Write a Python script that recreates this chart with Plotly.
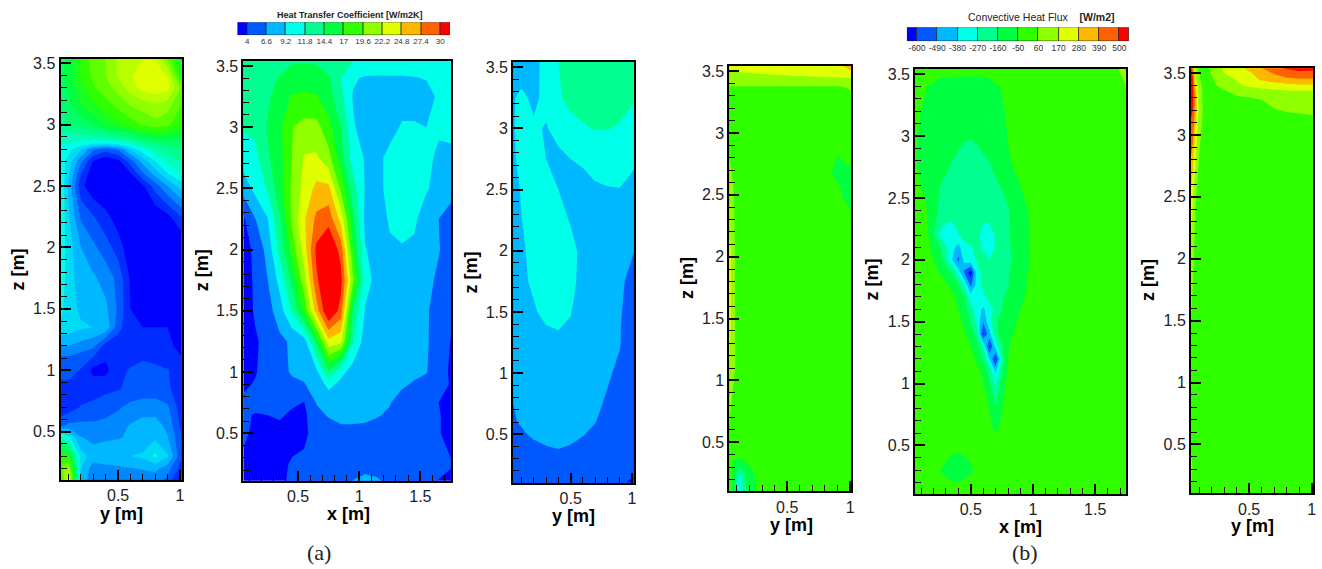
import plotly.graph_objects as go

BAND_COLORS = ["#0000ff", "#0058ff", "#00b8ff", "#00ffe8", "#00ff90", "#00ff40",
               "#30ff00", "#90ff00", "#e0ff00", "#ffb800", "#ff6000", "#ff0000"]
HTC_LEVELS = [4, 6.6, 9.2, 11.8, 14.4, 17, 19.6, 22.2, 24.8, 27.4, 30]
FLUX_LEVELS = [-600, -490, -380, -270, -160, -50, 60, 170, 280, 390, 500]
HTC_TITLE = "<b>Heat Transfer Coefficient [W/m2K]</b>"
FLUX_TITLE = "Convective Heat Flux    <b>[W/m2]</b>"

# Panel 1: heat transfer coefficient, y-z plane
y1 = [.03, .1, .2, .3, .4, .5, .6, .7, .8, .9, 1.02]
z1 = [.1, .2, .3, .45, .55, .7, .85, 1, 1.1, 1.2, 1.35, 1.5, 1.75, 2, 2.25, 2.5, 2.6, 2.7, 2.8, 2.85, 2.9, 3, 3.15, 3.3, 3.4, 3.55]
htc1 = [
 [17, 25, 9, 6.8, 6.8, 6.8, 7, 7.2, 7.2, 6.2, 3],
 [20, 22, 9.2, 7.2, 7.5, 7.6, 7.8, 8, 8.2, 7.2, 4.5],
 [18, 18, 9.8, 8.6, 8.8, 9, 9.2, 9.4, 10.8, 9.4, 5.3],
 [13, 11, 8, 7.5, 7.7, 7.8, 8.1, 8.5, 9, 8, 5.3],
 [6.3, 6.9, 6.9, 6.9, 7, 7.4, 8, 8.4, 8.4, 7.6, 4.8],
 [4.2, 4.6, 5.4, 5.6, 6, 6.4, 7, 7.3, 7.3, 6.8, 4.4],
 [4.8, 4.8, 4.6, 4.8, 5, 5.2, 5.6, 5.8, 5.8, 5.6, 4.2],
 [5.9, 5.9, 5.2, 3.6, 3.6, 5, 5.4, 5.6, 5.6, 5.4, 4.4],
 [6.4, 6.4, 5.9, 5.2, 4.2, 4.7, 5, 5.2, 5, 4.6, 4],
 [7.9, 7.9, 7.4, 6.9, 4.7, 4.3, 4.6, 4.8, 4.6, 4.2, 3.7],
 [10.4, 9.9, 9.4, 9.2, 8.9, 5.9, 4.1, 4, 4, 4, 3.8],
 [10.9, 9.9, 8.9, 8.6, 8.2, 6.4, 4, 3.9, 3.9, 3.9, 3.7],
 [11.4, 9.9, 8.4, 8.1, 7.4, 6.2, 3.8, 3.2, 2.8, 3, 3.2],
 [11.4, 9.9, 7.9, 6.9, 5.9, 4.7, 3.1, 2.7, 2.7, 2.7, 2.7],
 [11.9, 9.4, 6.4, 5.4, 4.4, 3.3, 2.7, 2.7, 2.8, 3.6, 5.4],
 [11.9, 8.9, 4.4, 3, 2.7, 2.7, 2.7, 3.8, 5.9, 7.9, 9.9],
 [11.9, 9.4, 5.4, 3, 2.7, 2.7, 3.8, 6.4, 8.4, 10.4, 11.9],
 [11.4, 9.9, 6.9, 3.8, 2.9, 3.5, 5.9, 8.4, 10.4, 12.2, 13.2],
 [11.4, 10.9, 9.4, 6.9, 5.9, 6.9, 9.4, 11.4, 12.9, 13.9, 14.4],
 [11.9, 11.9, 11.4, 10.9, 10.9, 11.4, 12.4, 13.4, 14.4, 14.9, 15.4],
 [12.4, 12.4, 12.7, 12.9, 13.2, 13.9, 14.4, 15.9, 16.4, 16.4, 15.9],
 [13.9, 14.4, 14.9, 15.9, 16.9, 17.9, 18.9, 19.7, 20.4, 19.9, 18.4],
 [14.4, 15.4, 16.9, 17.9, 18.9, 19.9, 20.9, 21.4, 21.9, 21.4, 19.4],
 [14.9, 15.9, 17.9, 19.4, 20.4, 21.4, 22.9, 24, 24.4, 24, 20.4],
 [15.4, 16.4, 18.4, 19.9, 20.9, 22.4, 23.4, 24.2, 24.2, 23.4, 17.4],
 [15.4, 15.9, 18.4, 20.4, 20.9, 22.4, 23.4, 23.4, 23.4, 20.4, 16.4],
]

# Panel 2: heat transfer coefficient, x-z plane
x2 = [.05, .15, .25, .35, .45, .55, .65, .75, .85, .95, 1.05, 1.15, 1.25, 1.35, 1.45, 1.55, 1.65, 1.75]
z2 = [.1, .25, .5, .65, .75, .9, 1, 1.25, 1.5, 1.75, 2, 2.25, 2.5, 2.75, 3, 3.25, 3.4, 3.55]
htc2 = [
 [3, 3, 3, 3.8, 4.2, 4.5, 5, 5, 5.5, 6.8, 7.5, 7, 6, 5, 4.5, 4.5, 3.9, 3.7],
 [3.5, 3, 3, 3.5, 4.2, 4.5, 5, 5, 5, 5.2, 5.5, 5.5, 5, 5, 5, 4.8, 4.5, 4.1],
 [4.5, 3.5, 3, 3, 3.3, 3.5, 5, 5.5, 6.2, 6.2, 6.2, 6, 5.8, 5.5, 5, 4.8, 4.1, 3.5],
 [4.5, 3.8, 4, 4.4, 3.5, 3.4, 6, 6.8, 7, 7, 6.9, 6.7, 6.4, 5.7, 5.1, 4.8, 4.1, 3.5],
 [4.5, 5, 5, 5, 4.5, 3.9, 6.7, 7.5, 7.5, 7.5, 7.5, 7, 6.7, 5.8, 5.2, 5, 4, 3.5],
 [3.5, 4.2, 5.2, 6, 6.2, 6.5, 7.5, 10, 8.5, 7.8, 7.5, 7.5, 7.4, 6.9, 6.4, 5.8, 5, 3.8],
 [3, 3.8, 5, 6, 6.8, 7, 8.5, 14, 10, 8, 7.5, 7.5, 7.5, 7.2, 7, 6.7, 5.5, 3.5],
 [3, 3.8, 4.5, 6, 7, 8, 15, 24, 23, 12, 8, 7.5, 7.5, 7.3, 7.2, 6.9, 5.3, 3.9],
 [3, 4.2, 5.5, 8, 12, 17.5, 26, 33, 29, 14, 9, 8, 8, 7.5, 7.5, 6.9, 5.5, 4.5],
 [3, 4.3, 6.5, 10, 15, 21, 29.5, 33, 31, 20, 10, 8.5, 8, 8, 8, 7.5, 6, 5],
 [3, 4.5, 7.5, 12.5, 18, 23.5, 30.6, 33, 29, 17, 9.3, 8.5, 8.8, 9, 8.8, 8, 6.8, 5],
 [3.5, 6.5, 9, 14, 20, 24.5, 28, 29, 24, 15, 8.5, 8, 9.5, 10, 9.6, 8, 6.6, 5],
 [7.5, 10, 12, 16, 20, 23, 25.5, 25.5, 19, 13, 9, 8.5, 10, 10.5, 10, 9.4, 8.5, 8],
 [10.5, 11, 14, 16, 19.6, 22.4, 22.6, 20.5, 15.5, 10.5, 9, 8.5, 10, 10.5, 10.5, 9.7, 8.8, 8.5],
 [12, 12.5, 14.5, 16.5, 19.5, 20.5, 20.5, 18, 14.5, 9.5, 8, 7.8, 8.2, 9.5, 9.5, 9.2, 9.5, 10],
 [12, 12.5, 14, 15.5, 17.2, 17.5, 17.2, 15.5, 12.5, 9, 8, 8, 8, 8, 8, 8.5, 9.5, 10],
 [12, 12.5, 13.5, 14.6, 15.5, 16, 15.5, 14.6, 11.9, 9.5, 8.9, 8.9, 9, 9, 9.1, 9.3, 10, 10.5],
 [12, 12, 13, 13.5, 14, 14, 14, 13.5, 13, 12, 11.5, 11, 10.5, 10.3, 10.3, 10.2, 10.2, 10.2],
]

# Panel 3: heat transfer coefficient, y-z plane
y3 = [.03, .1, .2, .3, .4, .5, .6, .7, .8, .9, 1.02]
z3 = [.1, .2, .38, .5, .6, .75, 1, 1.25, 1.35, 1.5, 1.6, 1.75, 2, 2.5, 2.75, 3, 3.25, 3.55]
htc3 = [
 [5, 5, 5, 5, 5, 5, 5, 5, 5, 5.1, 2.5],
 [5.1, 5.1, 5.2, 5.3, 5.3, 5.3, 5.3, 5.2, 5.1, 5, 4.8],
 [5.3, 5.6, 6.1, 6.5, 6.6, 6.5, 6, 5.7, 5.3, 5, 4.6],
 [5.9, 6.35, 6.9, 6.95, 6.95, 6.85, 6.7, 6.2, 5.6, 5.2, 4.7],
 [6.4, 6.8, 7, 7.1, 7.1, 7, 6.8, 6.65, 6, 5.5, 4.8],
 [6.6, 7.2, 7.5, 7.6, 7.5, 7.3, 7.1, 6.9, 6.4, 5.7, 4.8],
 [6.9, 7.5, 8, 8.1, 8, 7.8, 7.4, 7.1, 6.8, 6.3, 5],
 [6.9, 7.7, 8.3, 8.6, 8.6, 8.2, 7.6, 7.3, 7, 6.7, 5.3],
 [7, 7.8, 8.6, 9, 9.2, 8.9, 7.8, 7.4, 7.1, 6.7, 5.4],
 [7, 8, 9, 9.7, 9.7, 9.3, 8, 7.5, 7.2, 6.8, 5.5],
 [7, 8.2, 9.2, 10, 10, 9.5, 8.3, 7.7, 7.3, 6.9, 5.6],
 [7, 8.5, 9.8, 10.3, 10.3, 9.8, 8.5, 7.8, 7.5, 7, 5.8],
 [7.5, 8.8, 10, 10.5, 10.5, 10, 8.5, 8, 7.8, 7.3, 6.6],
 [8, 9.5, 10.2, 9.8, 9.2, 8, 8, 8.9, 9.1, 9.15, 8.6],
 [8.8, 10, 10, 9.2, 8.5, 9.2, 9.7, 10, 10, 10, 9.5],
 [9, 10, 9.6, 9, 10.2, 11, 11.5, 11.9, 11.9, 11.5, 10.5],
 [9, 9.8, 8.6, 10, 11.5, 12.5, 13, 13.5, 13.5, 13, 12],
 [7, 7.5, 8.5, 10, 11.8, 12.5, 13, 13, 13, 13, 13],
]

# Panel 4: convective heat flux, y-z plane
y4 = [.03, .06, .08, .1, .13, .16, .2, .25, .3, .5, .7, .85, .9, .95, 1.02]
z4 = [.1, .18, .25, .37, .45, .6, .8, 1.1, 1.5, 2, 2.35, 2.55, 2.68, 2.82, 3, 3.3, 3.38, 3.45, 3.5, 3.55]
flux4 = [
 [150, -50, -120, -300, -340, -200, -110, -60, 0, 0, 0, 0, 0, 0, 0],
 [60, -40, -110, -280, -320, -180, -100, -50, 0, 0, 0, 0, 0, 0, 0],
 [30, -30, -100, -170, -270, -160, -90, -40, 0, 0, 0, 0, 0, 0, 0],
 [20, -10, -45, -50, -45, -30, -10, 0, 0, 0, 0, 0, 0, 0, 0],
 [20, 0, 0, 0, 0, 0, 0, 0, 0, 0, 0, 0, 0, 0, 0],
 [70, 10, 0, 0, 0, 0, 0, 0, 0, 0, 0, 0, 0, 0, 0],
 [110, 50, 20, 0, 0, 0, 0, 0, 0, 0, 0, 0, 0, 0, 0],
 [200, 110, 70, 40, 0, 0, 0, 0, 0, 0, 0, 0, 0, 0, 0],
 [250, 150, 70, 30, 0, 0, 0, 0, 0, 0, 0, 0, 0, 0, 0],
 [250, 150, 70, 30, 0, 0, 0, 0, 0, 0, 0, 0, 0, 0, 0],
 [170, 100, 60, 30, 0, 0, 0, 0, 0, 0, 0, 0, 0, -20, -50],
 [120, 80, 50, 20, 0, 0, 0, 0, 0, 0, 0, 0, -30, -75, -70],
 [90, 60, 30, 10, 0, 0, 0, 0, 0, 0, 0, -50, -80, -90, -70],
 [70, 30, 10, 0, 0, 0, 0, 0, 0, 0, 0, 0, -50, -20, -5],
 [40, 10, 0, 0, 0, 0, 0, 0, 0, 0, 0, 0, 0, 0, 0],
 [30, 10, 5, 5, 5, 5, 5, 5, 5, 5, 5, 5, 5, 10, 30],
 [62, 62, 62, 62, 62, 62, 62, 62, 62, 62, 62, 62, 62, 65, 100],
 [130, 130, 130, 130, 135, 140, 140, 145, 150, 160, 165, 170, 172, 175, 180],
 [170, 172, 175, 175, 178, 180, 182, 185, 190, 200, 205, 210, 210, 230, 290],
 [230, 230, 232, 235, 240, 240, 245, 245, 245, 250, 250, 255, 260, 290, 400],
]

# Panel 5: convective heat flux, x-z plane
x5 = [.05, .15, .25, .3, .35, .4, .45, .5, .55, .6, .65, .7, .75, .8, .85, .95, 1.05, 1.65, 1.75]
z5 = [.1, .2, .3, .4, .5, .6, .7, .9, 1, 1.1, 1.2, 1.3, 1.4, 1.5, 1.6, 1.7, 1.8, 1.9, 2, 2.1, 2.2, 2.4, 2.6, 2.8, 3, 3.2, 3.4, 3.55]
flux5 = [
 [0, 0, 0, 0, 0, 0, 0, 0, 0, 0, 0, 0, 0, 0, 0, 0, 0, 0, 0],
 [0, 0, 0, -20, -40, -50, -30, -10, 0, 0, 0, 0, 0, 0, 0, 0, 0, 0, 0],
 [0, 0, -50, -90, -110, -110, -100, -70, -20, 0, 0, 0, 0, 0, 0, 0, 0, 0, 0],
 [0, 0, 0, -30, -70, -80, -60, -30, 0, 0, 0, 0, 0, 0, 0, 0, 0, 0, 0],
 [0, 0, 0, 0, 0, 0, 0, 0, 0, 0, 0, -30, 0, 0, 0, 0, 0, 0, 0],
 [0, 0, 0, 0, 0, 0, 0, 0, 0, 0, -15, -55, -15, 0, 0, 0, 0, 0, 0],
 [0, 0, 0, 0, 0, 0, 0, 0, 0, 0, -30, -110, -30, 0, 0, 0, 0, 0, 0],
 [0, 0, 0, 0, 0, 0, 0, 0, 0, -10, -90, -210, -80, -10, 0, 0, 0, 0, 0],
 [0, 0, 0, 0, 0, 0, 0, 0, -10, -45, -140, -290, -100, -20, 0, 0, 0, 0, 0],
 [0, 0, 0, 0, 0, 0, 0, 0, -20, -80, -200, -400, -170, -30, 0, 0, 0, 0, 0],
 [0, 0, 0, 0, 0, 0, 0, -10, -70, -170, -380, -620, -240, -50, -5, 0, 0, 0, 0],
 [0, 0, 0, 0, 0, 0, -10, -50, -130, -260, -620, -330, -170, -60, -10, 0, 0, 0, 0],
 [0, 0, 0, 0, 0, -5, -40, -90, -210, -620, -420, -200, -105, -75, -45, -5, 0, 0, 0],
 [0, 0, 0, 0, -5, -20, -70, -170, -300, -480, -300, -180, -110, -85, -60, -5, 0, 0, 0],
 [0, 0, 0, -5, -15, -55, -120, -220, -330, -400, -310, -240, -160, -105, -80, -20, -5, 0, 0],
 [0, 0, 0, -10, -25, -70, -170, -330, -370, -300, -230, -190, -165, -150, -120, -40, -10, 0, 0],
 [0, 0, -10, -40, -80, -160, -300, -520, -330, -240, -190, -180, -170, -165, -110, -50, -10, 0, 0],
 [0, -5, -55, -100, -180, -320, -520, -650, -320, -230, -190, -180, -170, -170, -120, -55, -15, 0, 0],
 [-5, -10, -90, -220, -380, -520, -330, -300, -260, -230, -270, -200, -190, -180, -150, -60, -20, 0, 0],
 [-5, -20, -150, -260, -350, -420, -300, -280, -250, -280, -320, -260, -205, -175, -140, -60, -20, 0, 0],
 [-5, -30, -280, -330, -320, -275, -230, -220, -240, -310, -320, -260, -220, -175, -130, -60, -15, 0, 0],
 [-5, -50, -180, -210, -225, -230, -235, -240, -240, -230, -220, -205, -190, -170, -120, -55, -20, 0, 0],
 [-20, -80, -160, -175, -190, -200, -205, -210, -205, -195, -180, -170, -155, -110, -70, -30, 0, 0, 0],
 [-45, -80, -110, -140, -160, -180, -190, -190, -180, -170, -160, -140, -110, -60, -40, -10, 0, 0, 0],
 [-40, -80, -110, -120, -130, -130, -150, -155, -150, -130, -110, -100, -80, -45, -20, 0, 0, 0, 0],
 [-30, -70, -100, -105, -110, -110, -110, -110, -110, -105, -100, -90, -60, -40, -10, 0, 0, 0, 0],
 [0, -50, -90, -100, -105, -110, -110, -110, -110, -105, -90, -60, -45, -30, -10, 0, 0, 0, 60],
 [0, 0, 0, 0, 0, 0, 0, 0, 0, 0, 0, 0, 0, 0, 0, 0, 0, 0, 180],
]

# Panel 6: convective heat flux, y-z plane
y6 = [.03, .05, .07, .1, .15, .2, .3, .4, .5, .6, .7, .8, .9, 1.02]
z6 = [.1, .2, .3, .4, .5, 1, 1.5, 2, 2.5, 2.75, 3, 3.2, 3.3, 3.35, 3.4, 3.45, 3.5, 3.55]
flux6 = [
 [30, 0, 0, 0, 0, 0, 0, 0, 0, 0, 0, 0, 0, 0],
 [100, 20, 0, 0, 0, 0, 0, 0, 0, 0, 0, 0, 0, 0],
 [200, 40, 0, 0, 0, 0, 0, 0, 0, 0, 0, 0, 0, 0],
 [90, 20, 0, 0, 0, 0, 0, 0, 0, 0, 0, 0, 0, 0],
 [30, 10, 0, 0, 0, 0, 0, 0, 0, 0, 0, 0, 0, 0],
 [40, 10, 0, 0, 0, 0, 0, 0, 0, 0, 0, 0, 0, 0],
 [70, 30, 0, 0, 0, 0, 0, 0, 0, 0, 0, 0, 0, 0],
 [150, 80, 30, 0, 0, 0, 0, 0, 0, 0, 0, 0, 0, 0],
 [270, 180, 70, 20, 0, 0, 0, 0, 0, 0, 0, 0, 0, 0],
 [380, 300, 170, 40, 0, 0, 0, 0, 0, 0, 0, 0, 0, 0],
 [440, 420, 250, 90, 0, 0, 0, 0, 0, 0, 0, 0, 0, 0],
 [550, 500, 350, 130, 10, 0, 0, 0, 0, 10, 55, 65, 70, 75],
 [560, 520, 350, 110, 10, 10, 30, 50, 58, 70, 90, 110, 130, 140],
 [560, 520, 350, 110, 15, 20, 50, 80, 110, 130, 140, 150, 155, 155],
 [560, 510, 260, 90, 15, 40, 90, 150, 190, 210, 230, 250, 260, 260],
 [560, 500, 180, 70, 15, 50, 120, 180, 230, 300, 340, 370, 380, 380],
 [550, 480, 130, 60, 20, 70, 170, 200, 260, 340, 400, 450, 480, 480],
 [520, 400, 100, 30, 20, 90, 190, 240, 340, 400, 480, 530, 540, 530],
]

# Axis labels
Y_TICKS = [0.5, 1]
X_TICKS = [0.5, 1, 1.5]
Z_TICKS = [0.5, 1, 1.5, 2, 2.5, 3, 3.5]

W, H = 1322, 569
DX, DY = 2, -2.5


def fmt(v):
    return str(int(v)) if float(v).is_integer() else str(v)


def pxx(v):
    return (v + DX) / W


def pxy(v):
    return 1 - (v + DY) / H


def frame(left, right, top, bottom):
    return [pxx(left), pxx(right)], [pxy(bottom), pxy(top)]


SANS = "Liberation Sans"
SERIF = "Liberation Serif"
TICK_FONT = dict(family=SANS, size=16, color="#222222")
TITLE_FONT = dict(family=SANS, size=18, color="#000000")

n = len(BAND_COLORS)
even_scale = [[i / (n - 1), c] for i, c in enumerate(BAND_COLORS)]
# Panel 1 is drawn at twice the level density; every other band takes a legend colour exactly.
fine_scale = [[0, BAND_COLORS[0]]] + [[min(1, (1.3 + 2.6 * i) / 29.9), c] for i, c in enumerate(BAND_COLORS)]

panels = [
    dict(x=y1, y=z1, z=htc1, label="y [m]", ticks=Y_TICKS, box=(58.7, 180, 58, 481.7), xr=(.035, 1.013), zr=(.108, 3.534),
         start=2.7, end=31.3, size=1.3, scale=fine_scale, xlab=(120, 516), zlab=(16, 270)),
    dict(x=x2, y=z2, z=htc2, label="x [m]", ticks=X_TICKS, box=(242, 450, 60, 482.7), xr=(.054, 1.75), zr=(.112, 3.54),
         start=4, end=30, size=2.6, scale=even_scale, xlab=(347, 516), zlab=(200, 271)),
    dict(x=y3, y=z3, z=htc3, label="y [m]", ticks=Y_TICKS, box=(512.3, 633.3, 61, 484.7), xr=(.031, 1.015), zr=(.103, 3.542),
         start=4, end=30, size=2.6, scale=even_scale, xlab=(573, 518), zlab=(470, 273)),
    dict(x=y4, y=z4, z=flux4, label="y [m]", ticks=Y_TICKS, box=(729, 851.3, 65, 493.3), xr=(.04, 1.01), zr=(.104, 3.54),
         start=-600, end=500, size=110, scale=even_scale, xlab=(791, 527), zlab=(686, 278)),
    dict(x=x5, y=z5, z=flux5, label="x [m]", ticks=X_TICKS, box=(915.3, 1126.7, 67.7, 496), xr=(.053, 1.749), zr=(.107, 3.544),
         start=-600, end=500, size=110, scale=even_scale, xlab=(1021, 529), zlab=(872, 280)),
    dict(x=y6, y=z6, z=flux6, label="y [m]", ticks=Y_TICKS, box=(1191.7, 1314.3, 67.3, 495.3), xr=(.035, 1.013), zr=(.105, 3.538),
         start=-600, end=500, size=110, scale=even_scale, xlab=(1253, 528), zlab=(1148, 280)),
]

fig = go.Figure()
layout = dict(width=W, height=H, margin=dict(l=0, r=0, t=0, b=0), paper_bgcolor="white", plot_bgcolor="white",
              showlegend=False, barmode="overlay", bargap=0)
annotations = []

for i, p in enumerate(panels, start=1):
    fig.add_trace(go.Contour(
        x=p["x"], y=p["y"], z=p["z"], xaxis=f"x{i}", yaxis=f"y{i}",
        colorscale=p["scale"], showscale=False, autocontour=False,
        contours=dict(coloring="fill", start=p["start"], end=p["end"], size=p["size"], showlines=False),
        line=dict(width=0, smoothing=0), hoverinfo="skip"))
    dx, dy = frame(*p["box"])
    common = dict(showline=True, linecolor="black", linewidth=2, mirror=True, showgrid=False, zeroline=False,
                  ticks="inside", ticklen=10, tickwidth=2, tickcolor="black", tickfont=TICK_FONT,
                  tickmode="array",
                  minor=dict(ticks="inside", ticklen=6, tickwidth=1, tickcolor="black", dtick=.1, tick0=0, showgrid=False))
    layout[f"xaxis{i}"] = dict(common, domain=dx, range=list(p["xr"]), anchor=f"y{i}", tickvals=p["ticks"],
                               ticktext=[fmt(v) for v in p["ticks"]])
    layout[f"yaxis{i}"] = dict(common, domain=dy, range=list(p["zr"]), anchor=f"x{i}", tickvals=Z_TICKS,
                               ticktext=[fmt(v) for v in Z_TICKS])
    annotations.append(dict(text=f"<b>{p['label']}</b>", xref="paper", yref="paper", x=pxx(p["xlab"][0]), y=pxy(p["xlab"][1]),
                            showarrow=False, xanchor="center", yanchor="middle", font=TITLE_FONT))
    annotations.append(dict(text="<b>z [m]</b>", xref="paper", yref="paper", x=pxx(p["zlab"][0]), y=pxy(p["zlab"][1]),
                            showarrow=False, xanchor="center", yanchor="middle", textangle=-90, font=TITLE_FONT))

legends = [
    dict(levels=HTC_LEVELS, box=(236, 449, 21, 34), title=HTC_TITLE, tx=349, ty=14, size=9, tick=8),
    dict(levels=FLUX_LEVELS, box=(907, 1130, 26, 40), title=FLUX_TITLE, tx=1041, ty=16, size=10.5, tick=8.5),
]
for j, leg in enumerate(legends, start=7):
    lv = leg["levels"]
    step = lv[1] - lv[0]
    lows = [lv[0] - step / 2] + lv
    highs = lv + [lv[-1] + step / 2]
    fig.add_trace(go.Bar(
        y=[0] * len(lows), x=[b - a for a, b in zip(lows, highs)], base=lows, orientation="h",
        width=1, marker=dict(color=BAND_COLORS, line=dict(color="#222222", width=0.7)),
        xaxis=f"x{j}", yaxis=f"y{j}", hoverinfo="skip"))
    dx, dy = frame(*leg["box"])
    layout[f"xaxis{j}"] = dict(domain=dx, range=[lows[0], highs[-1]], anchor=f"y{j}", tickmode="array", tickvals=lv,
                               ticktext=[fmt(v) for v in lv], ticks="", showline=False, showgrid=False, zeroline=False,
                               tickfont=dict(family=SANS, size=leg["tick"], color="#333333"))
    layout[f"yaxis{j}"] = dict(domain=dy, range=[-.5, .5], anchor=f"x{j}", visible=False)
    annotations.append(dict(text=leg["title"], xref="paper", yref="paper", x=pxx(leg["tx"]), y=pxy(leg["ty"]),
                            showarrow=False, xanchor="center", yanchor="middle",
                            font=dict(family=SANS, size=leg["size"], color="#222222")))

for text, px in (("(a)", 318), ("(b)", 1025)):
    annotations.append(dict(text=text, xref="paper", yref="paper", x=pxx(px), y=pxy(555), showarrow=False,
                            xanchor="center", yanchor="middle",
                            font=dict(family=SERIF, size=22, color="#222222")))

fig.update_layout(annotations=annotations, **layout)
fig.write_html("out.html", config=dict(displayModeBar=False),
               post_script="document.body.style.margin='0';document.body.style.overflow='hidden';")
